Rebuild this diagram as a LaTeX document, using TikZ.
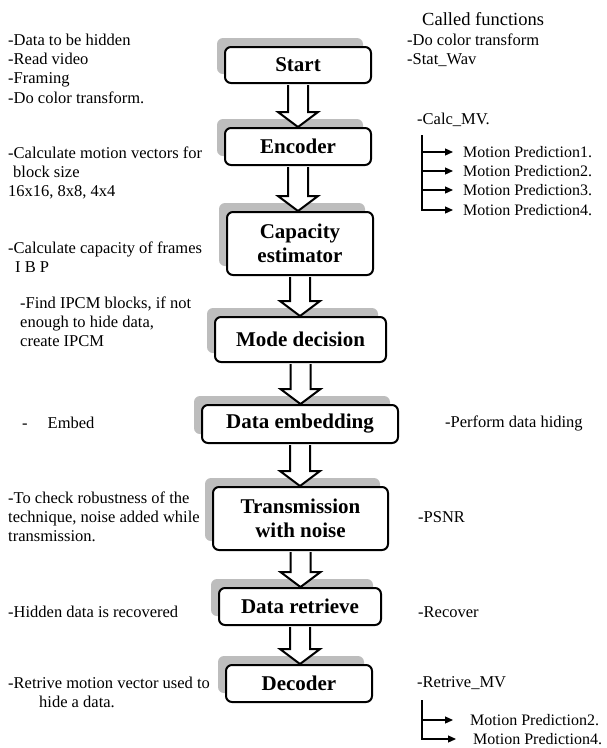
\documentclass[tikz,border=0pt]{standalone}
\usepackage{fontspec}
\setmainfont{Liberation Serif}
\usetikzlibrary{shadows,calc,arrows.meta}
\begin{document}
\begin{tikzpicture}[x=1pt,y=-1pt,
  box/.style={draw, line width=2pt, rounded corners=6pt, fill=white, inner sep=0pt,
    align=center, font=\bfseries\fontsize{21}{24}\selectfont,
    drop shadow={shadow xshift=-8pt, shadow yshift=9pt, fill=black!26, opacity=1}},
  side/.style={anchor=west, inner sep=0pt, align=left, font=\fontsize{16.5}{19.2}\selectfont},
  mp/.style={anchor=west, inner sep=0pt, font=\fontsize{16}{18}\selectfont},
  blk/.style={draw, fill=white, line width=2pt},
  brk/.style={line width=1.2pt, -{Triangle[length=8pt,width=7pt]}}]

\useasboundingbox[fill=white] (0,0) rectangle (606,748);

% main boxes
\node[box, minimum width=146pt, minimum height=36pt] (start) at (298,65) {Start};
\node[box, minimum width=146pt, minimum height=37pt] (enc) at (298,146.5) {Encoder};
\node[box, minimum width=146pt, minimum height=63pt] (cap) at (300,243.5) {Capacity\\estimator};
\node[box, minimum width=171pt, minimum height=45pt] (mode) at (300.5,339.5) {Mode decision};
\node[box, minimum width=196pt, minimum height=38pt] (emb) at (300,424) {Data embedding};
\node[box, minimum width=175pt, minimum height=63pt] (trans) at (300.5,518.5) {Transmission\\with noise};
\node[box, minimum width=162pt, minimum height=37pt] (ret) at (300,606.5) {Data retrieve};
\node[box, minimum width=146pt, minimum height=37pt] (dec) at (299,683.5) {Decoder};

% block arrows
\foreach \a/\b in {start/enc, enc/cap, cap/mode, mode/emb, emb/trans, trans/ret, ret/dec}{
  \path[blk] let \p1=(\a.south), \p2=(\b.north) in
    (\x1-10pt,\y1-1pt) -- (\x1-10pt,\y2+15pt) -- (\x1-20pt,\y2+15pt) -- (\x1,\y2)
    -- (\x1+20pt,\y2+15pt) -- (\x1+10pt,\y2+15pt) -- (\x1+10pt,\y1-1pt);
}

% left descriptions
\node[side] (l1) at (8,68.7) {-Data to be hidden\\-Read video\\-Framing\\-Do color transform.};
\node[side] (l2) at (8,172.7) {-Calculate motion vectors for\\\hspace{5pt}block size\\16x16, 8x8, 4x4};
\node[side] (l3) at (8,257.5) {-Calculate capacity of frames\\\hspace{7pt}I B P};
\node[side] (l4) at (20,321.7) {-Find IPCM blocks, if not\\enough to hide data,\\create IPCM};
\node[side] (l5) at (22,423) {-\hspace{20pt}Embed};
\node[side] (l6) at (8,517) {-To check robustness of the\\technique, noise added while\\transmission.};
\node[side] (l7) at (8,612) {-Hidden data is recovered};
\node[side] (l8) at (8,692) {-Retrive motion vector used to\\\hspace{31pt}hide a data.};

% right: called functions
\node[side, font=\fontsize{18.5}{21}\selectfont] (cf) at (422,19) {Called functions};
\node[side] (r1) at (407,50) {-Do color transform\\-Stat\_Wav};
\node[side] (r2) at (417,120) {-Calc\_MV.};
\node[mp] (mp1) at (463,152) {Motion Prediction1.};
\node[mp] (mp2) at (463,171) {Motion Prediction2.};
\node[mp] (mp3) at (463,190) {Motion Prediction3.};
\node[mp] (mp4) at (463,210) {Motion Prediction4.};
\coordinate (t1) at (422,135);
\draw[brk] (t1) |- ([xshift=-10pt]mp4.west);
\foreach \m in {mp1,mp2,mp3}{
  \draw[brk] (t1 |- \m.west) -- ([xshift=-10pt]\m.west);
}
\node[side] (r3) at (445,423) {-Perform data hiding};
\node[side] (r4) at (418,517) {-PSNR};
\node[side] (r5) at (418,612) {-Recover};
\node[side] (r6) at (417,683) {-Retrive\_MV};
\node[mp] (mq2) at (470,720) {Motion Prediction2.};
\node[mp] (mq4) at (473,739) {Motion Prediction4.};
\coordinate (t2) at (422,700);
\draw[brk] (t2) |- ([xshift=-17pt]mq4.west);
\draw[brk] (t2 |- mq2.west) -- ([xshift=-17pt]mq2.west);
\end{tikzpicture}
\end{document}
